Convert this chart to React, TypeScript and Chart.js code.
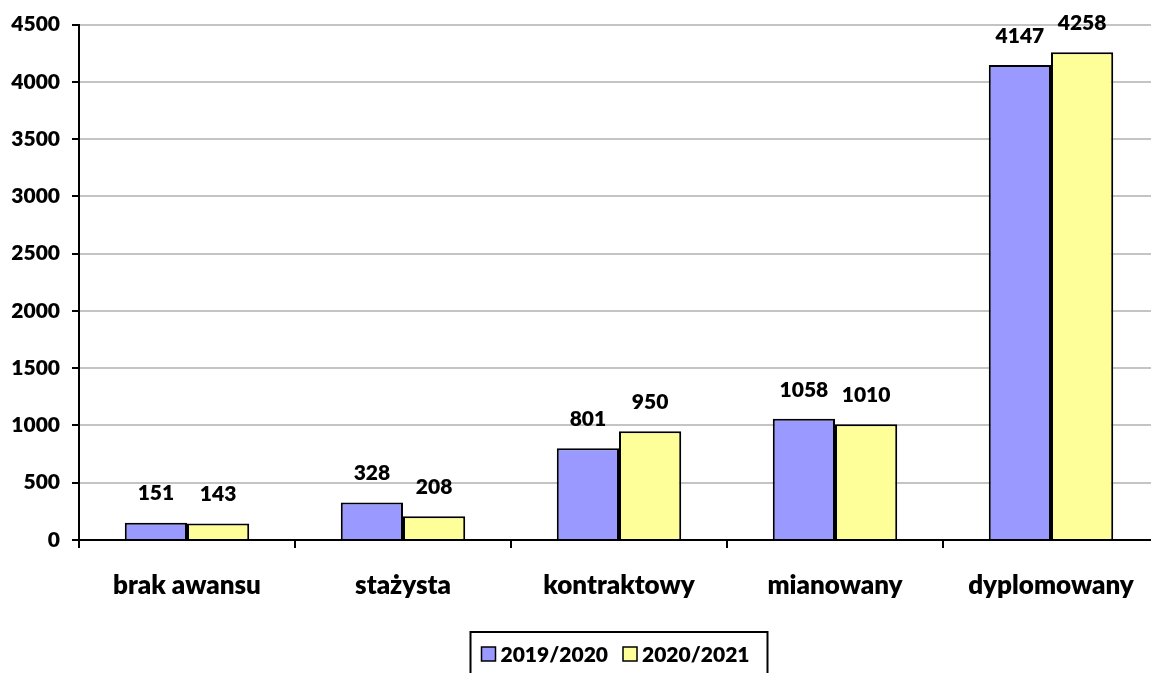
import React, { useEffect, useRef } from "react";
import { Chart, registerables } from "chart.js";

Chart.register(...registerables);

const categories = ["brak awansu", "stażysta", "kontraktowy", "mianowany", "dyplomowany"];
const seriesNames = ["2019/2020", "2020/2021"];
const values2019 = [151, 328, 801, 1058, 4147];
const values2020 = [143, 208, 950, 1010, 4258];
const seriesColors = ["#9999FF", "#FFFF99"];
const yMin = 0;
const yMax = 4500;
const yStep = 500;

const FONT = "Lato, 'DejaVu Sans', sans-serif";
const WEIGHT = 800;

const dataLabelPlugin = {
  id: "dataLabels",
  afterDatasetsDraw(chart: any) {
    const ctx = chart.ctx;
    ctx.save();
    ctx.font = `${WEIGHT} 21px ${FONT}`;
    ctx.fillStyle = "#000";
    ctx.textAlign = "center";
    ctx.textBaseline = "middle";
    chart.data.datasets.forEach((ds: any, i: number) => {
      const meta = chart.getDatasetMeta(i);
      meta.data.forEach((el: any, j: number) => {
        ctx.fillText(String(ds.data[j]), el.x, el.y - 29);
      });
    });
    ctx.restore();
  },
};

const boxedLegendPlugin = {
  id: "boxedLegend",
  afterDraw(chart: any) {
    const ctx = chart.ctx;
    const area = chart.chartArea;
    ctx.save();
    ctx.font = `${WEIGHT} 21px ${FONT}`;
    const sq = 14;
    const gapText = 5;
    const gapItem = 15;
    const padL = 11;
    const padR = 18;
    const widths = chart.data.datasets.map((d: any) => ctx.measureText(d.label).width);
    let content = 0;
    widths.forEach((w: number, i: number) => {
      content += sq + gapText + w + (i < widths.length - 1 ? gapItem : 0);
    });
    const boxW = content + padL + padR;
    const cx = (area.left + area.right) / 2;
    const boxX = cx - boxW / 2;
    const boxY = 632;
    ctx.strokeStyle = "#000";
    ctx.lineWidth = 2;
    ctx.strokeRect(boxX, boxY, boxW, 60);
    let x = boxX + padL;
    const cy = 654;
    chart.data.datasets.forEach((d: any, i: number) => {
      ctx.fillStyle = d.backgroundColor;
      ctx.fillRect(x, cy - sq / 2, sq, sq);
      ctx.lineWidth = 1.5;
      ctx.strokeRect(x, cy - sq / 2, sq, sq);
      x += sq + gapText;
      ctx.fillStyle = "#000";
      ctx.textAlign = "left";
      ctx.textBaseline = "middle";
      ctx.fillText(d.label, x, cy + 1);
      x += widths[i] + gapItem;
    });
    ctx.restore();
  },
};

export default function App() {
  const canvasRef = useRef<HTMLCanvasElement | null>(null);

  useEffect(() => {
    document.body.style.overflow = "hidden";
    const canvas = canvasRef.current;
    if (!canvas) return;
    const chart = new Chart(canvas, {
      type: "bar",
      data: {
        labels: categories,
        datasets: [
          {
            label: seriesNames[0],
            data: values2019,
            backgroundColor: seriesColors[0],
            borderColor: "#000",
            borderWidth: 2,
            categoryPercentage: 0.576,
            barPercentage: 1,
          },
          {
            label: seriesNames[1],
            data: values2020,
            backgroundColor: seriesColors[1],
            borderColor: "#000",
            borderWidth: 2,
            categoryPercentage: 0.576,
            barPercentage: 1,
          },
        ],
      },
      options: {
        animation: false,
        responsive: true,
        maintainAspectRatio: false,
        layout: { padding: { top: 24, left: 0, right: 21, bottom: 0 } },
        plugins: {
          legend: { display: false },
          tooltip: { enabled: false },
        },
        scales: {
          x: {
            type: "category",
            offset: true,
            grid: {
              offset: true,
              drawOnChartArea: false,
              drawTicks: true,
              tickLength: 8,
              color: "#000",
              lineWidth: 2,
            },
            border: { display: true, color: "#000", width: 2 },
            ticks: {
              color: "#000",
              padding: 22,
              font: { family: FONT, size: 26, weight: WEIGHT },
              maxRotation: 0,
              autoSkip: false,
            },
            afterFit(scale: any) {
              scale.height = 133;
            },
          },
          y: {
            min: yMin,
            max: yMax,
            ticks: {
              stepSize: yStep,
              color: "#000",
              padding: 12,
              font: { family: FONT, size: 21, weight: WEIGHT },
              callback: (v: any) => String(v),
            },
            grid: {
              color: "#c4c4c4",
              lineWidth: 2,
              tickColor: "#000",
              tickLength: 7,
              drawTicks: true,
            },
            border: { display: true, color: "#000", width: 2 },
            afterFit(scale: any) {
              scale.width = 79;
            },
          },
        },
      },
      plugins: [dataLabelPlugin, boxedLegendPlugin],
    });
    return () => {
      chart.destroy();
    };
  }, []);

  return (
    <div style={{ position: "fixed", left: 0, top: 0, width: 1180, height: 673 }}>
      <canvas ref={canvasRef} />
    </div>
  );
}
